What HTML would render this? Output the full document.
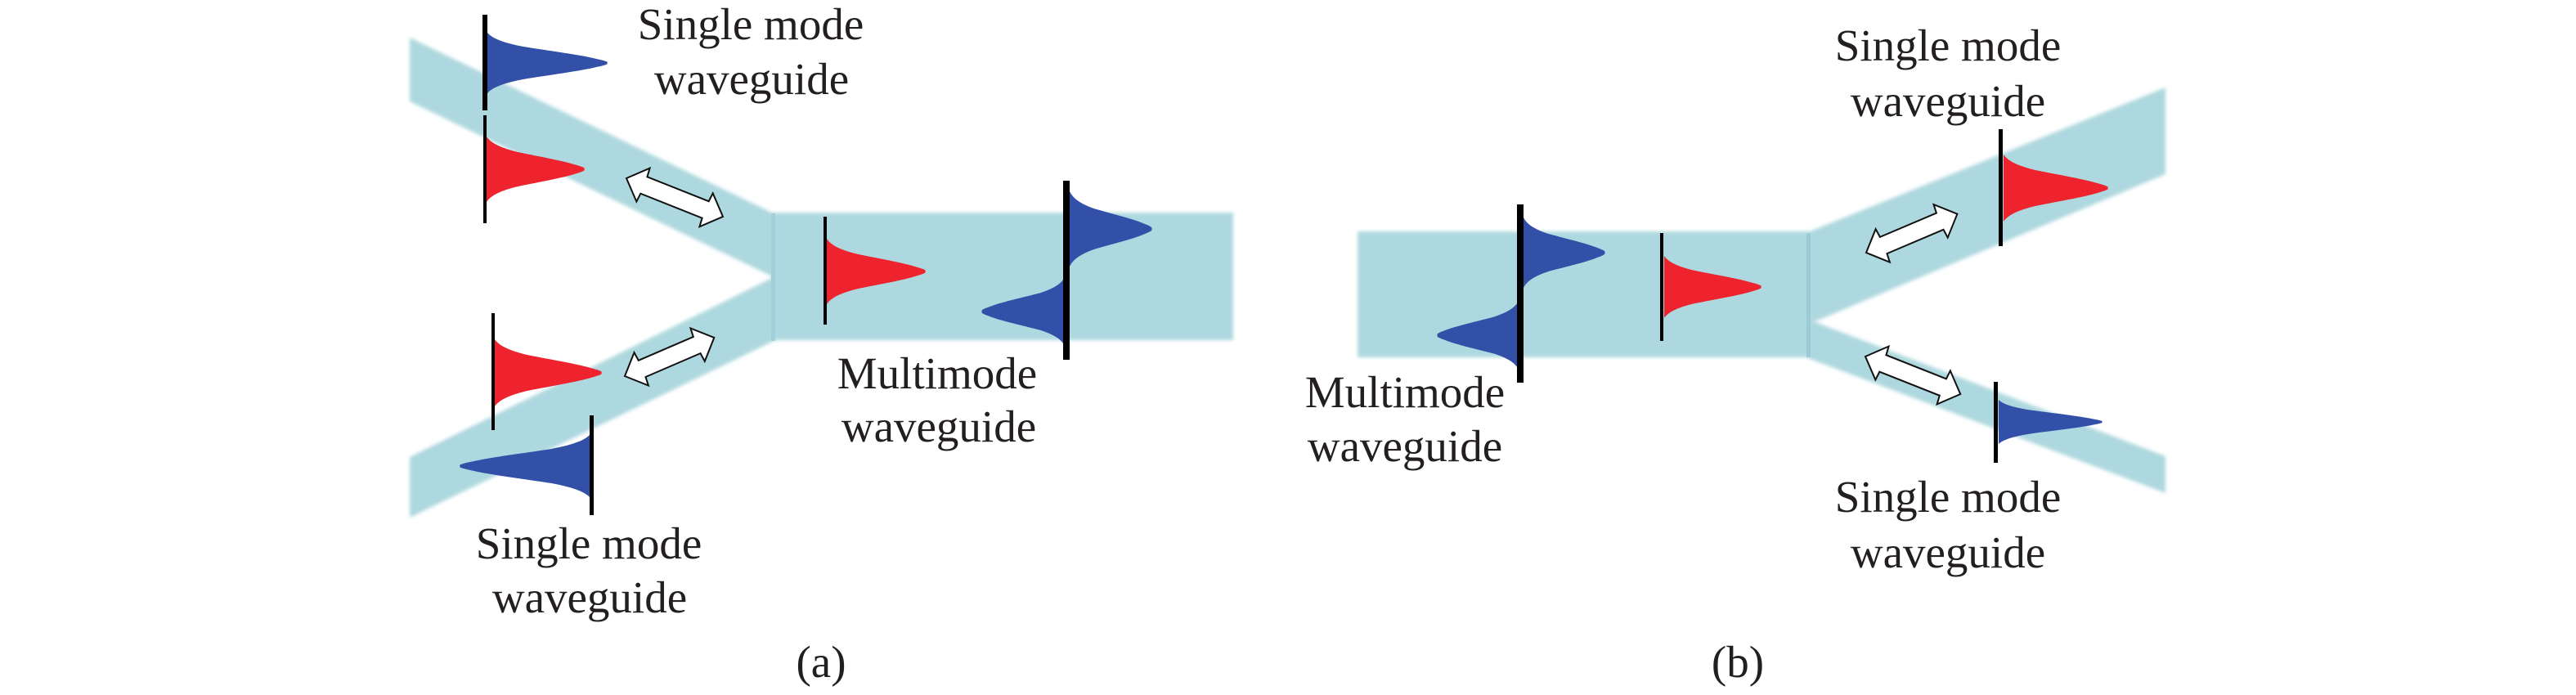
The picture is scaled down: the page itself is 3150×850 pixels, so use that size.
<!DOCTYPE html>
<html>
<head>
<meta charset="utf-8">
<style>
html,body{margin:0;padding:0;background:#fff;}
svg{display:block;}
text{font-family:"Liberation Serif",serif;font-size:55px;fill:#231f20;text-anchor:middle;}
</style>
</head>
<body>
<svg width="3150" height="850" viewBox="0 0 3150 850" xmlns="http://www.w3.org/2000/svg">
<defs>
<filter id="b" x="-5%" y="-5%" width="110%" height="110%"><feGaussianBlur stdDeviation="2"/></filter>
<path id="g" d="M0,-1C.04,-.82 .12,-.68 .3,-.54C.5,-.41 .78,-.27 .92,-.13Q1.03,-.04 1,0Q1.03,.04 .92,.13C.78,.27 .5,.41 .3,.54C.12,.68 .04,.82 0,1Z"/>
</defs>
<rect width="3150" height="850" fill="#fff"/>

<!-- panel a waveguides -->
<g fill="#aed8df" filter="url(#b)">
<polygon points="501,46 946,261 946,339 501,124"/>
<polygon points="501,559 946,339 946,417 501,633"/>
<rect x="944" y="260" width="564" height="156"/>
</g>
<rect x="943" y="261" width="5" height="156" fill="#a2cfda"/>

<!-- panel b waveguides -->
<g fill="#aed8df" filter="url(#b)">
<rect x="1660" y="283" width="553" height="154"/>
<polygon points="2211,284 2648,107 2648,213 2220,393 2211,393"/>
<polygon points="2211,393 2220,394 2648,558 2648,603 2211,438"/>
</g>
<rect x="2209" y="285" width="5" height="152" fill="#9ccbd6"/>

<!-- gaussians a -->
<use href="#g" fill="#3350a8" transform="translate(596,77) scale(146,37)"/>
<use href="#g" fill="#ee232d" transform="translate(595,207) scale(119,40)"/>
<use href="#g" fill="#ee232d" transform="translate(605,456) scale(130,41)"/>
<use href="#g" fill="#3350a8" transform="translate(722,570) scale(-159,39)"/>
<use href="#g" fill="#ee232d" transform="translate(1011,332) scale(120,40)"/>
<use href="#g" fill="#3350a8" transform="translate(1308,280) scale(100,46)"/>
<use href="#g" fill="#3350a8" transform="translate(1302,381) scale(-101,42)"/>

<!-- gaussians b -->
<use href="#g" fill="#3350a8" transform="translate(1863,309) scale(99,43)"/>
<use href="#g" fill="#3350a8" transform="translate(1857,410) scale(-99,42)"/>
<use href="#g" fill="#ee232d" transform="translate(2035,351) scale(118,38)"/>
<use href="#g" fill="#ee232d" transform="translate(2450,230) scale(127,41)"/>
<use href="#g" fill="#3350a8" transform="translate(2444,516) scale(126,27)"/>

<!-- bars -->
<g fill="#000">
<rect x="590" y="18" width="6" height="117"/>
<rect x="591" y="141" width="4" height="132"/>
<rect x="601" y="383" width="4" height="143"/>
<rect x="721" y="508" width="5" height="122"/>
<rect x="1007" y="265" width="4" height="132"/>
<rect x="1300" y="221" width="8" height="219"/>
<rect x="1855" y="250" width="8" height="218"/>
<rect x="2030" y="285" width="4" height="132"/>
<rect x="2444" y="158" width="5" height="143"/>
<rect x="2438" y="467" width="5" height="99"/>
</g>

<!-- arrows -->
<g fill="#fff" stroke="#111" stroke-width="2">
<polygon transform="translate(766,218) rotate(21.7)" points="0,0 22,-22 23,-11 104,-11 105,-22 127,0 105,22 104,11 23,11 22,22"/>
<polygon transform="translate(764,460) rotate(-23.3)" points="0,0 22,-22 23,-11 96,-11 97,-22 119,0 97,22 96,11 23,11 22,22"/>
<polygon transform="translate(2282,309) rotate(-23)" points="0,0 22,-22 23,-11 98,-11 99,-22 121,0 99,22 98,11 23,11 22,22"/>
<polygon transform="translate(2281,436) rotate(21.6)" points="0,0 22,-22 23,-11 102,-11 103,-22 125,0 103,22 102,11 23,11 22,22"/>
</g>

<!-- text a -->
<text x="918" y="48">Single mode</text>
<text x="919" y="115">waveguide</text>
<text x="1146" y="475">Multimode</text>
<text x="1148" y="540">waveguide</text>
<text x="720" y="683">Single mode</text>
<text x="721" y="749">waveguide</text>
<text x="1004" y="828">(a)</text>

<!-- text b -->
<text x="2382" y="74">Single mode</text>
<text x="2382" y="142">waveguide</text>
<text x="2382" y="626">Single mode</text>
<text x="2382" y="694">waveguide</text>
<text x="1718" y="498">Multimode</text>
<text x="1718" y="564">waveguide</text>
<text x="2125" y="828">(b)</text>
</svg>
</body>
</html>
